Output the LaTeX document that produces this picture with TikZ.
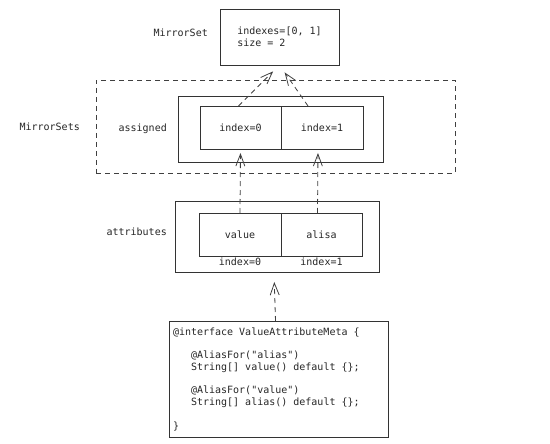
\documentclass[tikz,border=0pt]{standalone}
\usepackage{fontspec}
\setmonofont{DejaVu Sans Mono}
\usetikzlibrary{arrows.meta, positioning}

\begin{document}
\begin{tikzpicture}[
    x=1pt, y=-1pt,
    box/.style={rectangle, draw=black!80, line width=0.8pt, outer sep=0pt, inner sep=3pt, align=center, font=\ttfamily\fontsize{10}{12}\selectfont, text=black!85},
    cell/.style={box, minimum height=43pt},
    group/.style={rectangle, draw=black!75, line width=0.8pt, dash pattern=on 5pt off 4pt, outer sep=0pt},
    lbl/.style={font=\ttfamily\fontsize{10}{12}\selectfont, text=black!85, inner sep=3pt},
    arr/.style={-{Straight Barb[length=12pt, width=9pt]}, line width=0.8pt, draw=black!75, dash pattern=on 5pt off 4pt}
]
    \useasboundingbox (0,0) rectangle (550,444);

    % Level 1 (y = 37): the shared MirrorSet
    \node[box, minimum width=119pt, minimum height=56pt, align=left] (mirror) at (279.5, 37) {indexes=[0, 1]\\size = 2};
    \node[lbl, left=9pt of mirror, yshift=4pt] (mirror_lbl) {MirrorSet};

    % Level 2 (y = 127): MirrorSets with the assigned slots
    \node[group, minimum width=359pt, minimum height=93pt] (mirrorsets) at (275.5, 126.5) {};
    \node[box, minimum width=205pt, minimum height=66pt] (assigned) at (280.5, 129) {};
    \node[cell, minimum width=81pt] (idx0) at (240.5, 127.5) {index=0};
    \node[cell, minimum width=82pt, right=0pt of idx0] (idx1) {index=1};
    \node[lbl, left=13pt of mirrorsets] (mirrorsets_lbl) {MirrorSets};
    \node[lbl, left=8pt of assigned] (assigned_lbl) {assigned};

    \draw[arr, shorten >=9pt] ([xshift=-2pt]idx0.north) -- (mirror.south);
    \draw[arr, shorten >=9pt] ([xshift=-14pt]idx1.north) -- (mirror.south);

    % Level 3 (y = 236): the attributes
    \node[box, minimum width=204pt, minimum height=71pt] (attrs) at (277, 236.5) {};
    \node[cell, minimum width=82pt] (value) at (240, 234.5) {value};
    \node[cell, minimum width=81pt, right=0pt of value] (alisa) {alisa};
    \node[lbl, below=-1pt of value] (value_idx) {index=0};
    \node[lbl, below=-1pt of alisa] (alisa_idx) {index=1};
    \node[lbl, left=5pt of attrs, yshift=4.5pt] (attrs_lbl) {attributes};

    \draw[arr, shorten >=4pt] (value.north) -- (idx0.south);
    \draw[arr, shorten >=4pt] ([xshift=-4pt]alisa.north) -- ([xshift=-4pt]idx1.south);

    % Level 4 (y = 379): the annotation source
    \node[box, minimum width=219pt, minimum height=116pt, text width=211pt, inner sep=4pt, align=flush left, font=\ttfamily\fontsize{10}{11.75}\selectfont] (code) at (278.5, 379) {@interface ValueAttributeMeta \{\\[11.75pt]
        \phantom{xxx}@AliasFor("alias")\\
        \phantom{xxx}String[] value() default \{\};\\[11.75pt]
        \phantom{xxx}@AliasFor("value")\\
        \phantom{xxx}String[] alias() default \{\};\\[11.75pt]
        \}};

    \draw[arr, shorten >=10pt] ([xshift=-3pt]code.north) -- ([xshift=-3pt]attrs.south);
\end{tikzpicture}
\end{document}
